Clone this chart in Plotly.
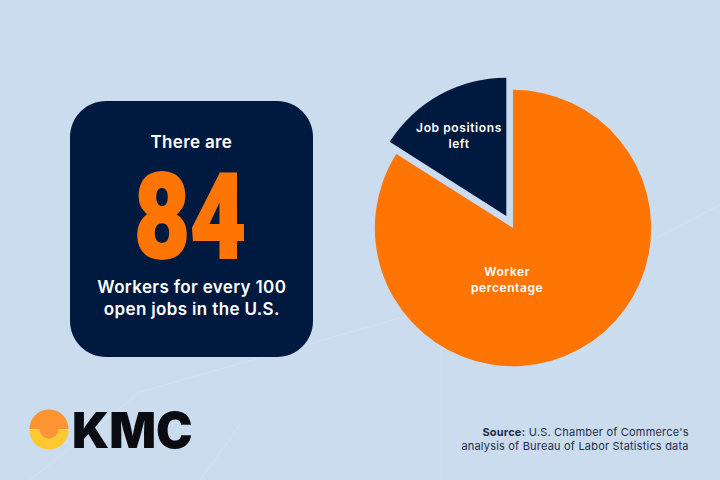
import math
import plotly.graph_objects as go

slice_labels = ["Worker percentage", "Job positions left"]
slice_values = [84, 16]
slice_colors = ["#FF7504", "#001A3F"]
BG = "#CBDCEE"
NAVY = "#001A3F"
W, H = 720, 480

def px(x): return x / W
def py(y): return 1 - y / H

def path(points):
    return "M" + " L".join(f"{px(x):.5f},{py(y):.5f}" for x, y in points) + " Z"

def rounded(x0, y0, x1, y1, r):
    pts = []
    for cx, cy, a0 in [(x1 - r, y0 + r, -90), (x1 - r, y1 - r, 0), (x0 + r, y1 - r, 90), (x0 + r, y0 + r, 180)]:
        for i in range(17):
            a = math.radians(a0 + 90 * i / 16)
            pts.append((cx + r * math.cos(a), cy + r * math.sin(a)))
    return path(pts)

def arc(cx, cy, r, a0, a1, n=40):
    return [(cx + r * math.cos(math.radians(a0 + (a1 - a0) * i / n)),
             cy + r * math.sin(math.radians(a0 + (a1 - a0) * i / n))) for i in range(n + 1)]

shapes = []
for (x0, y0, x1, y1) in [(30, 480, 140, 392), (140, 392, 400, 318), (440, 350, 720, 205),
                         (200, 480, 240, 425), (441, 350, 441, 480)]:
    shapes.append(dict(type="line", xref="paper", yref="paper", x0=px(x0), y0=py(y0), x1=px(x1), y1=py(y1),
                       line=dict(color="#D3E2F1", width=1), layer="below"))

shapes.append(dict(type="path", xref="paper", yref="paper", path=rounded(70, 101, 313, 357, 36),
                   fillcolor=NAVY, line=dict(width=0), layer="below"))

# Logo
lx, ly, lr = 49, 430, 19.5
shapes.append(dict(type="path", xref="paper", yref="paper",
                   path=path(arc(lx, ly, lr, 0, 180) + arc(lx, 429, 9.5, 180, 0)),
                   fillcolor="#FDC92F", line=dict(width=0), layer="below"))
shapes.append(dict(type="path", xref="paper", yref="paper",
                   path=path(arc(lx, ly - 1, lr, 180, 360) + arc(lx, 429, 9.5, 0, 180)),
                   fillcolor="#FC9432", line=dict(width=0), layer="below"))

fig = go.Figure(go.Pie(
    values=slice_values,
    labels=slice_labels,
    textinfo="none",
    hoverinfo="label+value",
    sort=False,
    direction="clockwise",
    rotation=0,
    pull=[0, 0.1],
    marker=dict(colors=slice_colors, line=dict(width=0)),
    domain=dict(x=[px(361), px(665)], y=[py(380), py(76)]),
    showlegend=False,
))

def label(x, y, text, size, color="#FFFFFF", family="Inter", weight=600, anchor="center"):
    return dict(xref="paper", yref="paper", x=px(x), y=py(y), text=text, showarrow=False,
                xanchor=anchor, yanchor="middle", align="right" if anchor == "right" else "center",
                font=dict(family=family, size=size, color=color, weight=weight))

annotations = [
    label(191, 142, "There are", 17),
    label(189.5, 218, "84", 119, color="#FF7504", family="Roboto", weight=900),
    label(192, 298, "Workers for every 100<br>open jobs in the U.S.", 17),
    label(459.5, 135.5, "Job positions<br>left", 12),
    label(507, 279.5, "Worker<br>percentage", 12),
    label(691, 439, "<b>Source:</b> U.S. Chamber of Commerce's<br>analysis of Bureau of Labor Statistics data",
          11, color="#1C2E4A", weight=400, anchor="right"),
    label(132.5, 430, "KMC", 49, color="#0A0C12", family="Inter", weight=900),
]

fig.update_layout(width=W, height=H, margin=dict(l=0, r=0, t=0, b=0), paper_bgcolor=BG,
                  plot_bgcolor=BG, shapes=shapes, annotations=annotations, showlegend=False)

post = """
document.body.style.margin = '0';
document.querySelectorAll('.annotation-text').forEach(function (t) {
  var s = t.textContent;
  if (s === '84') {
    t.setAttribute('textLength', '112');
    t.setAttribute('lengthAdjust', 'spacingAndGlyphs');
    t.style.stroke = '#FF7504';
    t.style.strokeWidth = '2px';
  } else if (s === 'KMC') {
  } else if (s.indexOf('Source') === 0) {
    t.style.letterSpacing = '0.2px';
  } else if (s.indexOf('Job') === 0 || s.indexOf('percentage') > 0) {
    t.style.letterSpacing = '0.6px';
  } else {
    t.style.letterSpacing = '0.35px';
  }
});
"""
fig.write_html("out.html", config=dict(displayModeBar=False), post_script=post)
